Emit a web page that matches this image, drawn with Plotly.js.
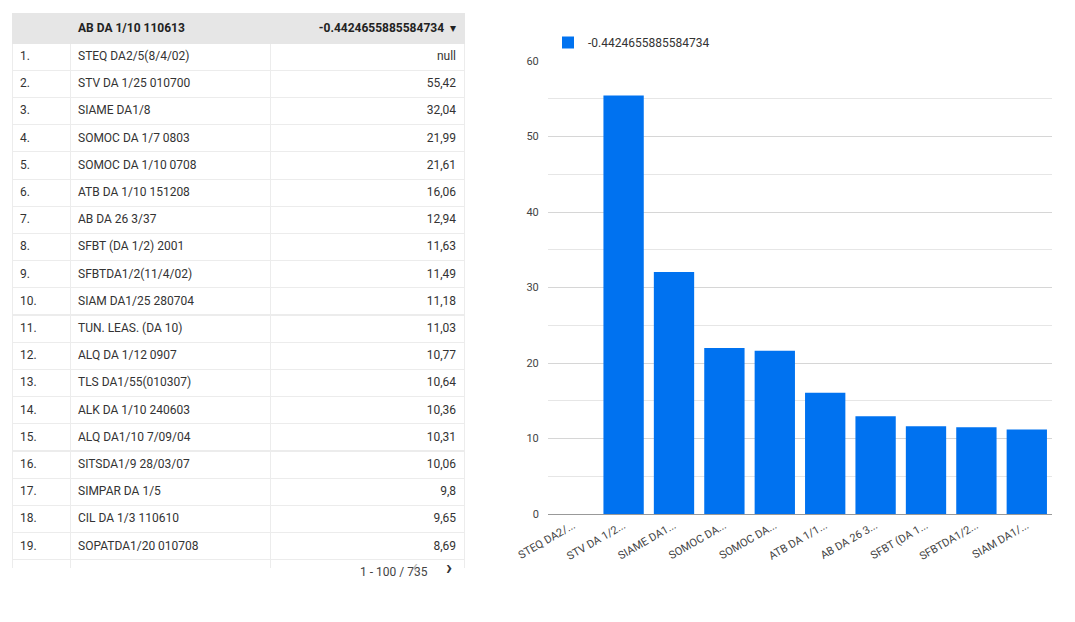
<!DOCTYPE html>
<html>
<head>
<meta charset="utf-8">
<script src="https://cdn.plot.ly/plotly-3.0.1.min.js"></script>
<style>body{margin:0;background:#fff}#chart{width:1075px;height:622px}</style>
</head>
<body>
<div id="chart"></div>
<script>
// Table rows (names and values as displayed)
const rowNames = [
  "STEQ DA2/5(8/4/02)", "STV DA 1/25 010700", "SIAME DA1/8", "SOMOC DA 1/7 0803",
  "SOMOC DA 1/10 0708", "ATB DA 1/10 151208", "AB DA 26 3/37", "SFBT (DA 1/2) 2001",
  "SFBTDA1/2(11/4/02)", "SIAM DA1/25 280704", "TUN. LEAS. (DA 10)", "ALQ DA 1/12 0907",
  "TLS DA1/55(010307)", "ALK DA 1/10 240603", "ALQ DA1/10 7/09/04", "SITSDA1/9 28/03/07",
  "SIMPAR DA 1/5", "CIL DA 1/3 110610", "SOPATDA1/20 010708", "SFBT DA 1/10 2001"
];
const rowValues = [null, 55.42, 32.04, 21.99, 21.61, 16.06, 12.94, 11.63, 11.49, 11.18,
  11.03, 10.77, 10.64, 10.36, 10.31, 10.06, 9.8, 9.65, 8.69, 8.61];

// Bar chart: first 10 rows, truncated labels
const barLabels = ["STEQ DA2/...", "STV DA 1/2...", "SIAME DA1...", "SOMOC DA...", "SOMOC DA...",
  "ATB DA 1/1...", "AB DA 26 3...", "SFBT (DA 1...", "SFBTDA1/2...", "SIAM DA1/..."];
const barValues = rowValues.slice(0, 10);

const seriesName = "-0.4424655885584734";
const fmt = v => v === null ? "null" : String(v).replace(".", ",");

const W = 1075, H = 622;
const idx = rowNames.map((_, i) => (i + 1) + ".");

const table = {
  type: "table",
  domain: { x: [12 / W, 464 / W], y: [1 - 568 / H, 1 - 13 / H] },
  columnwidth: [58, 200, 194],
  header: {
    values: ["", "<b>AB DA 1/10 110613</b>", "<b>" + seriesName + "</b>  ▾"],
    align: ["left", "left", "right"],
    fill: { color: "#e6e6e6" },
    line: { color: "#e6e6e6", width: 1 },
    font: { family: "Roboto", size: 12, color: "#222" },
    height: 24
  },
  cells: {
    values: [idx, rowNames, rowValues.map(fmt)],
    align: ["left", "left", "right"],
    fill: { color: "#fff" },
    line: { color: "#ececec", width: 1 },
    font: { family: "Roboto", size: 12, color: "#333" },
    height: 27.2
  }
};

const bars = {
  type: "bar",
  x: barLabels.map((l, i) => i),
  y: barValues,
  name: seriesName,
  marker: { color: "#0072f0" },
  width: 0.8,
  xaxis: "x", yaxis: "y",
  showlegend: true
};

Plotly.newPlot("chart", [table, bars], {
  width: W, height: H,
  margin: { l: 0, r: 0, t: 0, b: 0 },
  paper_bgcolor: "#fff", plot_bgcolor: "#fff",
  font: { family: "Roboto", size: 11, color: "#444" },
  showlegend: true,
  legend: { x: 548 / W, y: 1 - 28 / H, xanchor: "left", yanchor: "top", font: { size: 12, color: "#333" } },
  xaxis: {
    domain: [548 / W, 1052 / W],
    tickmode: "array", tickvals: barLabels.map((l, i) => i), ticktext: barLabels,
    tickangle: -30, showgrid: false, showline: true, linecolor: "#999",
    tickfont: { size: 11, color: "#444" }
  },
  yaxis: {
    domain: [1 - 514 / H, 1 - 61 / H],
    range: [0, 60], dtick: 10, gridcolor: "#d6d6d6", zeroline: false,
    minor: { dtick: 5, showgrid: true, gridcolor: "#e6e6e6" },
    tickfont: { size: 11, color: "#444" }, ticksuffix: "   "
  },
  annotations: [
    { xref: "paper", yref: "paper", x: 358 / W, y: 1 - 581 / H, text: "1 - 100 / 735",
      showarrow: false, font: { size: 12, color: "#444" } },
    { xref: "paper", yref: "paper", x: 415 / W, y: 1 - 581 / H, text: "‹",
      showarrow: false, font: { size: 20, color: "#bbb" } },
    { xref: "paper", yref: "paper", x: 449 / W, y: 1 - 581 / H, text: "<b>›</b>",
      showarrow: false, font: { size: 20, color: "#333" } }
  ]
}, { displayModeBar: false });
</script>
</body>
</html>
